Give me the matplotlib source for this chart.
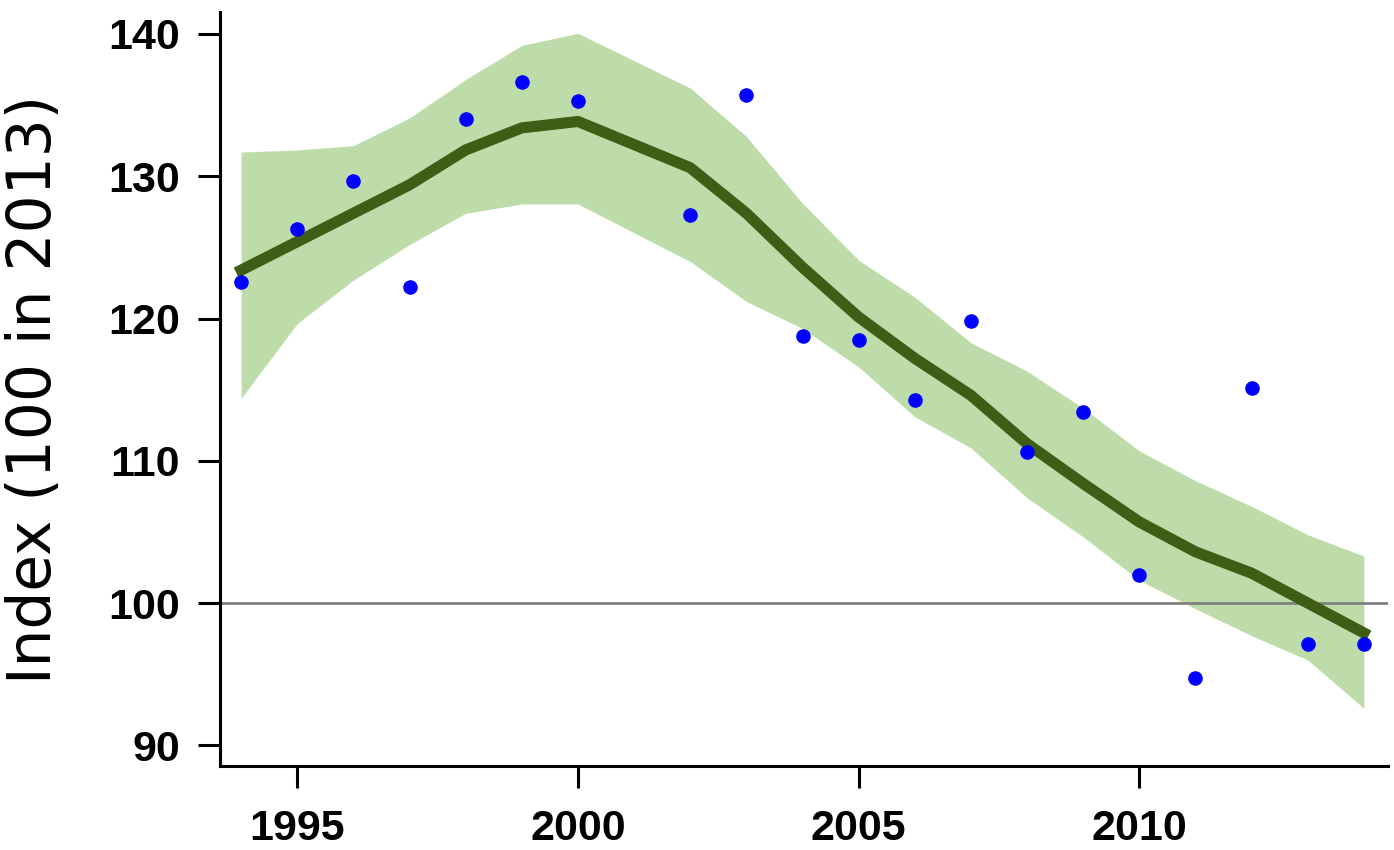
"""Index (100 in 2013): yearly values with smoothed trend and confidence band."""
import matplotlib
matplotlib.use("Agg")
import matplotlib.pyplot as plt

# observed yearly values (blue dots)
years = [1994, 1995, 1996, 1997, 1998, 1999, 2000, 2002, 2003, 2004,
         2005, 2006, 2007, 2008, 2009, 2010, 2011, 2012, 2013, 2014]
index_values = [122.6, 126.3, 129.7, 122.2, 134.0, 136.6, 135.3, 127.3, 135.7, 118.8,
                118.5, 114.3, 119.8, 110.6, 113.4, 102.0, 94.7, 115.1, 97.1, 97.1]

# smoothed trend and its band
trend = [123.4, 125.4, 127.4, 129.4, 131.85, 133.4, 133.85, 130.6, 127.4, 123.6,
         120.1, 117.2, 114.6, 111.2, 108.4, 105.7, 103.6, 102.1, 100.0, 97.9]
band_upper = [131.7, 131.85, 132.15, 134.1, 136.8, 139.2, 140.05, 136.2, 132.8, 128.1,
              124.1, 121.5, 118.3, 116.3, 113.7, 110.7, 108.6, 106.8, 104.8, 103.3]
band_lower = [114.4, 119.65, 122.7, 125.2, 127.4, 128.05, 128.05, 124.0, 121.2, 119.3,
              116.6, 113.1, 110.9, 107.4, 104.65, 101.6, 99.6, 97.7, 96.0, 92.6]

x_ticks = [1995, 2000, 2005, 2010]
y_ticks = [90, 100, 110, 120, 130, 140]
base_level = 100

tick_font = {"family": ["Liberation Sans", "DejaVu Sans"], "weight": "bold", "size": 31}

fig = plt.figure(figsize=(13.94, 8.5), dpi=100)
ax = fig.add_axes([220 / 1394, 84 / 850, 1168 / 1394, 754 / 850])

ax.fill_between(years, band_lower, band_upper, color="#bddcaa", linewidth=0, zorder=1)
ax.axhline(base_level, color="#808080", linewidth=2, zorder=2)
ax.plot(years, trend, color="#3d5e14", linewidth=8, solid_joinstyle="round", zorder=3)
ax.plot(years, index_values, "o", color="#0000ff", markersize=10.5,
        markeredgewidth=0, zorder=4)

ax.set_xlim(1993.623, 2014.43)
ax.set_ylim(88.545, 141.546)

ax.spines["top"].set_visible(False)
ax.spines["right"].set_visible(False)
for side in ("left", "bottom"):
    ax.spines[side].set_linewidth(2.2)
    ax.spines[side].set_color("black")

ax.set_xticks(x_ticks)
ax.set_yticks(y_ticks)
ax.tick_params(direction="out", length=15.8, width=2.2, color="black")
ax.tick_params(axis="x", pad=15)
ax.tick_params(axis="y", pad=13)
ax.set_xticklabels([str(t) for t in x_ticks], fontdict=tick_font)
ax.set_yticklabels([str(t) for t in y_ticks], fontdict=tick_font)

fig.text(35 / 1394, 1 - 390 / 850, "Index (100 in 2013)", rotation=90,
         ha="center", va="center", fontsize=43, family="DejaVu Sans")

fig.savefig("out.png", dpi=100, facecolor="white")
